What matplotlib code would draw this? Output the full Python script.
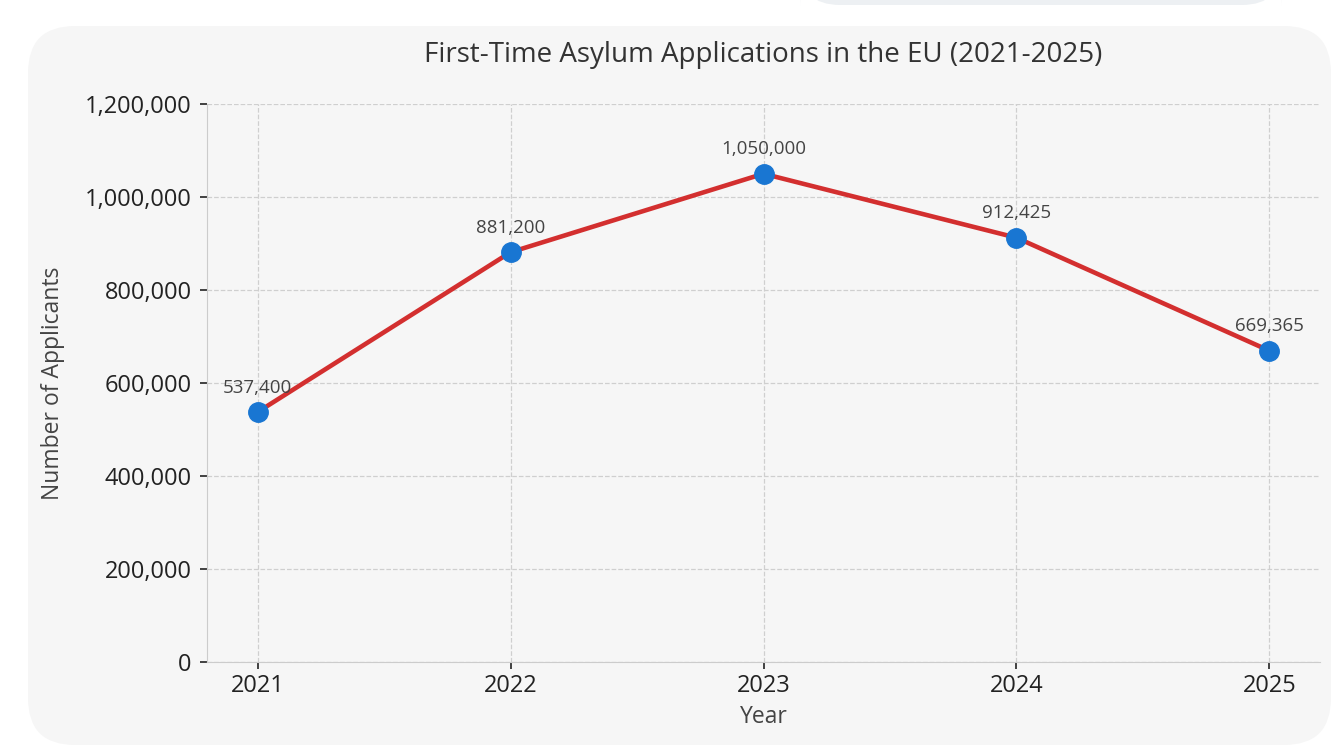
import matplotlib.pyplot as plt
from matplotlib.patches import FancyBboxPatch
from matplotlib.ticker import FuncFormatter

# ==============================
# Data
# ==============================
years = [2021, 2022, 2023, 2024, 2025]
applicants = [537400, 881200, 1050000, 912425, 669365]
value_labels = ["537,400", "881,200", "1,050,000", "912,425", "669,365"]

plt.rcParams["font.family"] = ["Open Sans", "DejaVu Sans"]

W, H = 1338, 756
fig = plt.figure(figsize=(W / 100, H / 100), dpi=100)
fig.patch.set_facecolor("white")

# ==============================
# Background card + top search bar edge
# ==============================
card = FancyBboxPatch((28 / W, (H - 745) / H), (1331 - 28) / W, (745 - 26) / H,
                      boxstyle="round,pad=0,rounding_size=0.035",
                      transform=fig.transFigure, facecolor="#f6f6f6",
                      edgecolor="none", mutation_aspect=W / H, zorder=-5)
fig.add_artist(card)
bar = FancyBboxPatch((800 / W, (H - 5) / H), (1282 - 800) / W, 40 / H,
                     boxstyle="round,pad=0,rounding_size=0.03",
                     transform=fig.transFigure, facecolor="#edf0f3",
                     edgecolor="none", mutation_aspect=W / H, zorder=-5)
fig.add_artist(bar)

# ==============================
# Line Chart
# ==============================
ax = fig.add_axes([207 / W, (H - 662) / H, (1320 - 207) / W, (662 - 104) / H])
ax.set_facecolor("#f6f6f6")

ax.plot(years, applicants, color="#d32f2f", linewidth=3.3, zorder=3)
ax.plot(years, applicants, "o", color="#1976d2", markersize=14, zorder=4)

for x, y, lab in zip(years, applicants, value_labels):
    ax.annotate(lab, (x, y), xytext=(0, 11), textcoords="offset points",
                ha="center", va="bottom", fontsize=13.5, color="#444444")

ax.set_xlim(2020.8, 2025.2)
ax.set_ylim(0, 1200000)
ax.set_xticks(years)
ax.set_yticks(range(0, 1200001, 200000))
ax.yaxis.set_major_formatter(FuncFormatter(lambda v, p: f"{int(v):,}"))
ax.tick_params(labelsize=17, colors="#222222", length=5, width=1.2)
ax.tick_params(axis="y", pad=6)

ax.grid(True, linestyle="--", color="#cfcfcf", linewidth=0.9)
ax.set_axisbelow(True)
for s in ["top", "right"]:
    ax.spines[s].set_visible(False)
for s in ["left", "bottom"]:
    ax.spines[s].set_color("#cccccc")

ax.set_xlabel("Year", fontsize=16.5, color="#444444", labelpad=5)
ax.set_ylabel("Number of Applicants", fontsize=16.5, color="#444444", labelpad=14)
ax.set_title("First-Time Asylum Applications in the EU (2021-2025)",
             fontsize=20, color="#333333", pad=30)

fig.savefig("out.png", dpi=100, facecolor="white")
